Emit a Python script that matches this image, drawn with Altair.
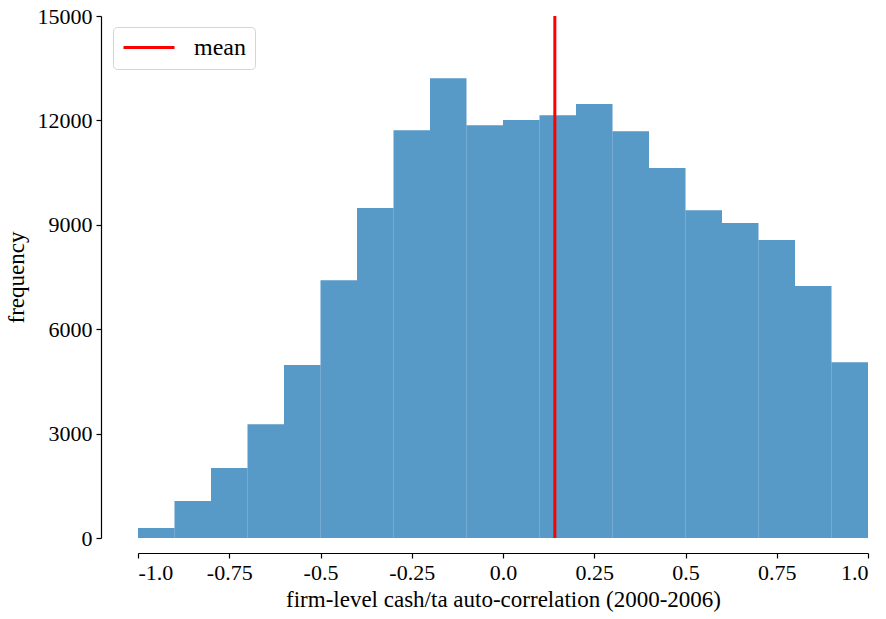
import altair as alt
import pandas as pd

bin_start = [-1.0, -0.9, -0.8, -0.7, -0.6, -0.5, -0.4, -0.3, -0.2, -0.1,
             0.0, 0.1, 0.2, 0.3, 0.4, 0.5, 0.6, 0.7, 0.8, 0.9]
bin_end = [-0.9, -0.8, -0.7, -0.6, -0.5, -0.4, -0.3, -0.2, -0.1, 0.0,
           0.1, 0.2, 0.3, 0.4, 0.5, 0.6, 0.7, 0.8, 0.9, 1.0]
counts = [290, 1060, 2010, 3270, 4970, 7410, 9480, 11720, 13210, 11860,
          12010, 12150, 12470, 11690, 10630, 9420, 9050, 8560, 7240, 5050]
mean_value = [0.142]
mean_label = ["mean"]

x_ticks = [-1.0, -0.75, -0.5, -0.25, 0.0, 0.25, 0.5, 0.75, 1.0]
y_ticks = [0, 3000, 6000, 9000, 12000, 15000]

hist = pd.DataFrame({"start": bin_start, "end": bin_end, "count": counts})
mean_df = pd.DataFrame({"mean": mean_value, "label": mean_label})

FONT = "Liberation Serif"

x_scale = alt.Scale(domain=[-1, 1], nice=False, zero=False)
y_scale = alt.Scale(domain=[0, 15000], nice=False)

label_expr = ("replace((abs(datum.value) == 1 || datum.value == 0) ? format(datum.value, '.1f') "
              ": format(datum.value, '.2~f'), '\u2212', '-')")

bars = alt.Chart(hist).mark_bar(
    color="#1f77b4", fillOpacity=0.75, strokeWidth=0
).encode(
    x=alt.X("start:Q", scale=x_scale,
            axis=alt.Axis(values=x_ticks, labelExpr=label_expr,
                          title="firm-level cash/ta auto-correlation (2000-2006)",
                          offset=15)),
    x2="end:Q",
    y=alt.Y("count:Q", scale=y_scale,
            axis=alt.Axis(values=y_ticks, title="frequency", offset=37, format="d")),
    y2=alt.datum(0),
)

rule = alt.Chart(mean_df).mark_rule(strokeWidth=3).encode(
    x=alt.X("mean:Q", scale=x_scale),
    y=alt.value(0),
    y2=alt.value(522),
    color=alt.Color("label:N", scale=alt.Scale(domain=mean_label, range=["red"]),
                    legend=alt.Legend(title=None, orient="none", legendX=-25, legendY=11,
                                      symbolType="stroke", symbolSize=2601,
                                      symbolStrokeWidth=3, labelFontSize=24,
                                      labelFont=FONT, fillColor="white",
                                      strokeColor="#d5d5d5", cornerRadius=4,
                                      padding=9, clipHeight=23, labelOffset=18)),
)

chart = (bars + rule).properties(
    width=730, height=522,
    padding={"left": 138, "top": 16, "right": 18, "bottom": 81},
    autosize=alt.AutoSizeParams(type="none"),
).configure_view(stroke=None).configure_axis(
    grid=False, domainColor="black", domainWidth=1.2, tickColor="black",
    tickWidth=1.2, tickSize=5, labelFont=FONT, titleFont=FONT,
    labelFontSize=22, titleFontSize=23, labelColor="black", titleColor="black",
    titleFontWeight="normal", labelPadding=4,
).configure_axisX(titlePadding=5).configure_axisY(titlePadding=9)

chart.save("out.html", embed_options={"renderer": "svg", "actions": False})
